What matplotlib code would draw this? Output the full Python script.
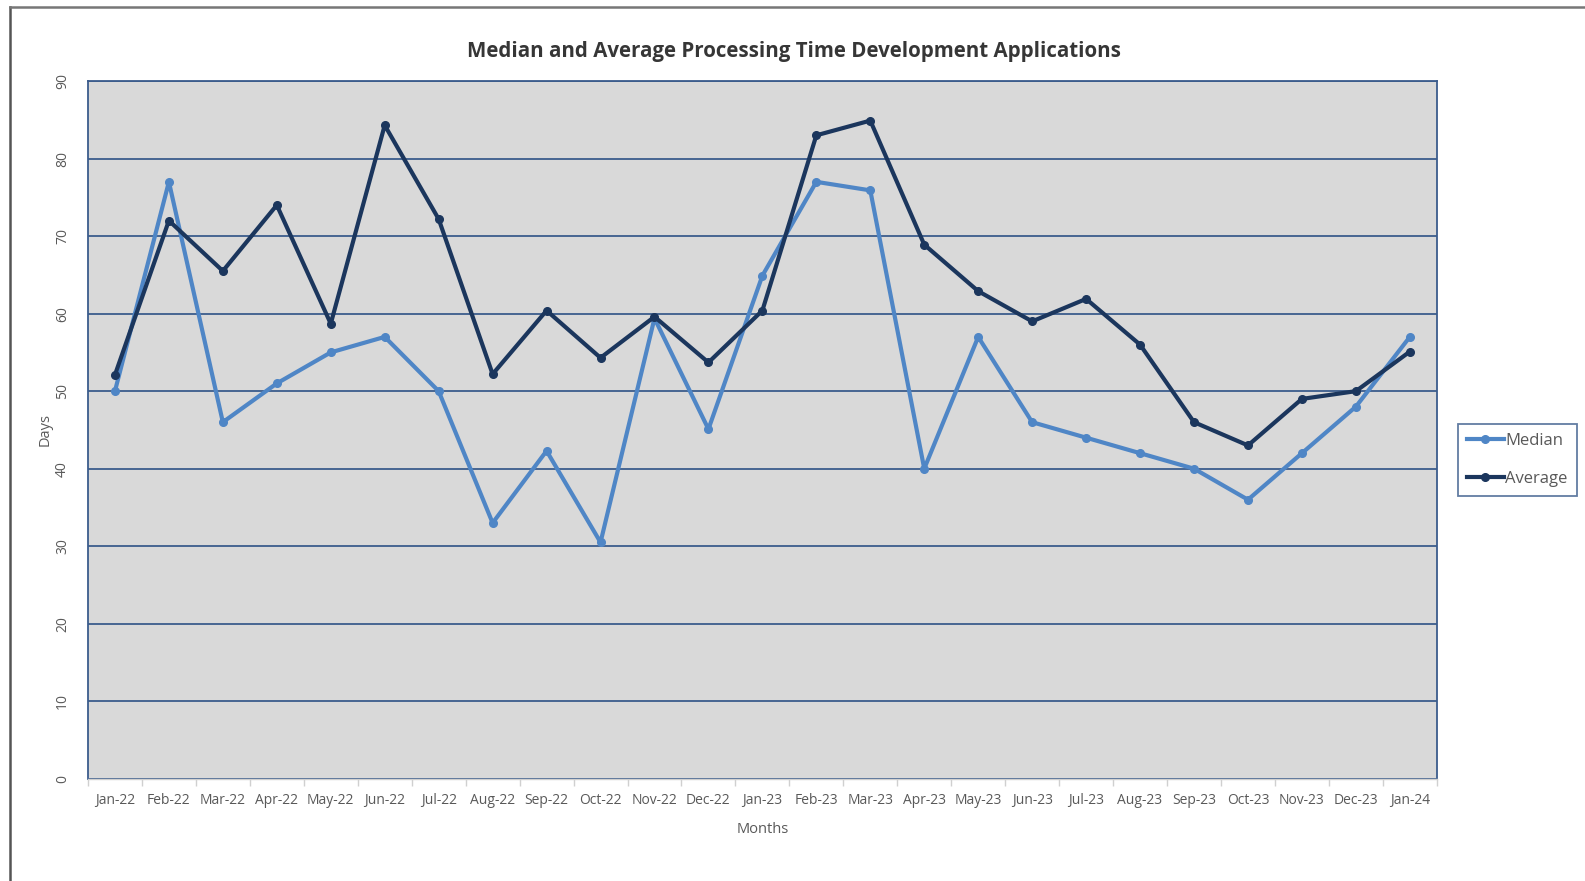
import numpy as np
import matplotlib.pyplot as plt
from matplotlib.lines import Line2D

plt.rcParams['font.family'] = ['Open Sans', 'DejaVu Sans']

months = ["Jan-22", "Feb-22", "Mar-22", "Apr-22", "May-22", "Jun-22", "Jul-22",
          "Aug-22", "Sep-22", "Oct-22", "Nov-22", "Dec-22", "Jan-23", "Feb-23",
          "Mar-23", "Apr-23", "May-23", "Jun-23", "Jul-23", "Aug-23", "Sep-23",
          "Oct-23", "Nov-23", "Dec-23", "Jan-24"]
median = [50, 77, 46, 51, 55, 57, 50, 33, 42.3, 30.5, 59.4, 45.1, 64.9, 77,
          75.9, 40, 57, 46, 44, 42, 40, 36, 42, 48, 57]
average = [52.1, 72, 65.5, 74, 58.7, 84.3, 72.2, 52.2, 60.4, 54.3, 59.6, 53.7,
           60.4, 83, 84.9, 68.9, 62.9, 59, 61.9, 56, 46, 43, 49, 50, 55.1]

grid_col = '#3b5c8c'
text_col = '#595959'

fig = plt.figure(figsize=(15.85, 8.81), dpi=100)
ax = fig.add_axes([0.0555, 0.116, 0.851, 0.792])
ax.set_facecolor('#d9d9d9')

x = np.arange(len(months))
ax.plot(x, median, color='#4f86c6', lw=3, marker='o', ms=5.5, label='Median', zorder=3)
ax.plot(x, average, color='#1b365d', lw=3, marker='o', ms=5.5, label='Average', zorder=4)

ax.set_xlim(-0.5, len(months) - 0.5)
ax.set_ylim(0, 90)
ax.set_yticks(range(0, 91, 10))
ax.set_yticklabels([str(v) for v in range(0, 91, 10)], rotation=90, va='center',
                   color=text_col, fontsize=10)
ax.tick_params(axis='y', length=0, pad=13)
ax.set_xticks(x)
ax.set_xticklabels(months, color=text_col, fontsize=10)
ax.set_xticks(np.arange(len(months) + 1) - 0.5, minor=True)
ax.tick_params(axis='x', which='major', length=0, pad=10)
ax.tick_params(axis='x', which='minor', length=5, color='#d0d0d0', width=1)

ax.grid(axis='y', color=grid_col, lw=1.3)
ax.set_axisbelow(True)
for s in ['left', 'right', 'top']:
    ax.spines[s].set_color(grid_col)
    ax.spines[s].set_linewidth(1.3)
ax.spines['bottom'].set_color('#d0d0d0')
ax.spines['bottom'].set_linewidth(1)

fig.suptitle("Median and Average Processing Time Development Applications",
             x=0.501, y=0.942, va='center', fontsize=14.8, fontweight='bold',
             color='#363636')
ax.set_xlabel("Months", fontsize=10.5, color=text_col, labelpad=10)
ax.set_ylabel("Days", fontsize=10.5, color=text_col, labelpad=2)

leg = ax.legend(loc='center left', bbox_to_anchor=(1.0095, 0.457), fontsize=12,
                frameon=True, fancybox=False, handlelength=2.2, handletextpad=0.1,
                borderpad=0.55, labelspacing=1.35, labelcolor=text_col)
leg.get_frame().set_edgecolor(grid_col)
leg.get_frame().set_linewidth(1.3)

# screenshot frame edges
fig.add_artist(Line2D([0.006, 0.006], [0, 0.992], color='#555555', lw=1.8))
fig.add_artist(Line2D([0.006, 1], [0.992, 0.992], color='#777777', lw=1.8))

plt.savefig("out.png", dpi=100)
